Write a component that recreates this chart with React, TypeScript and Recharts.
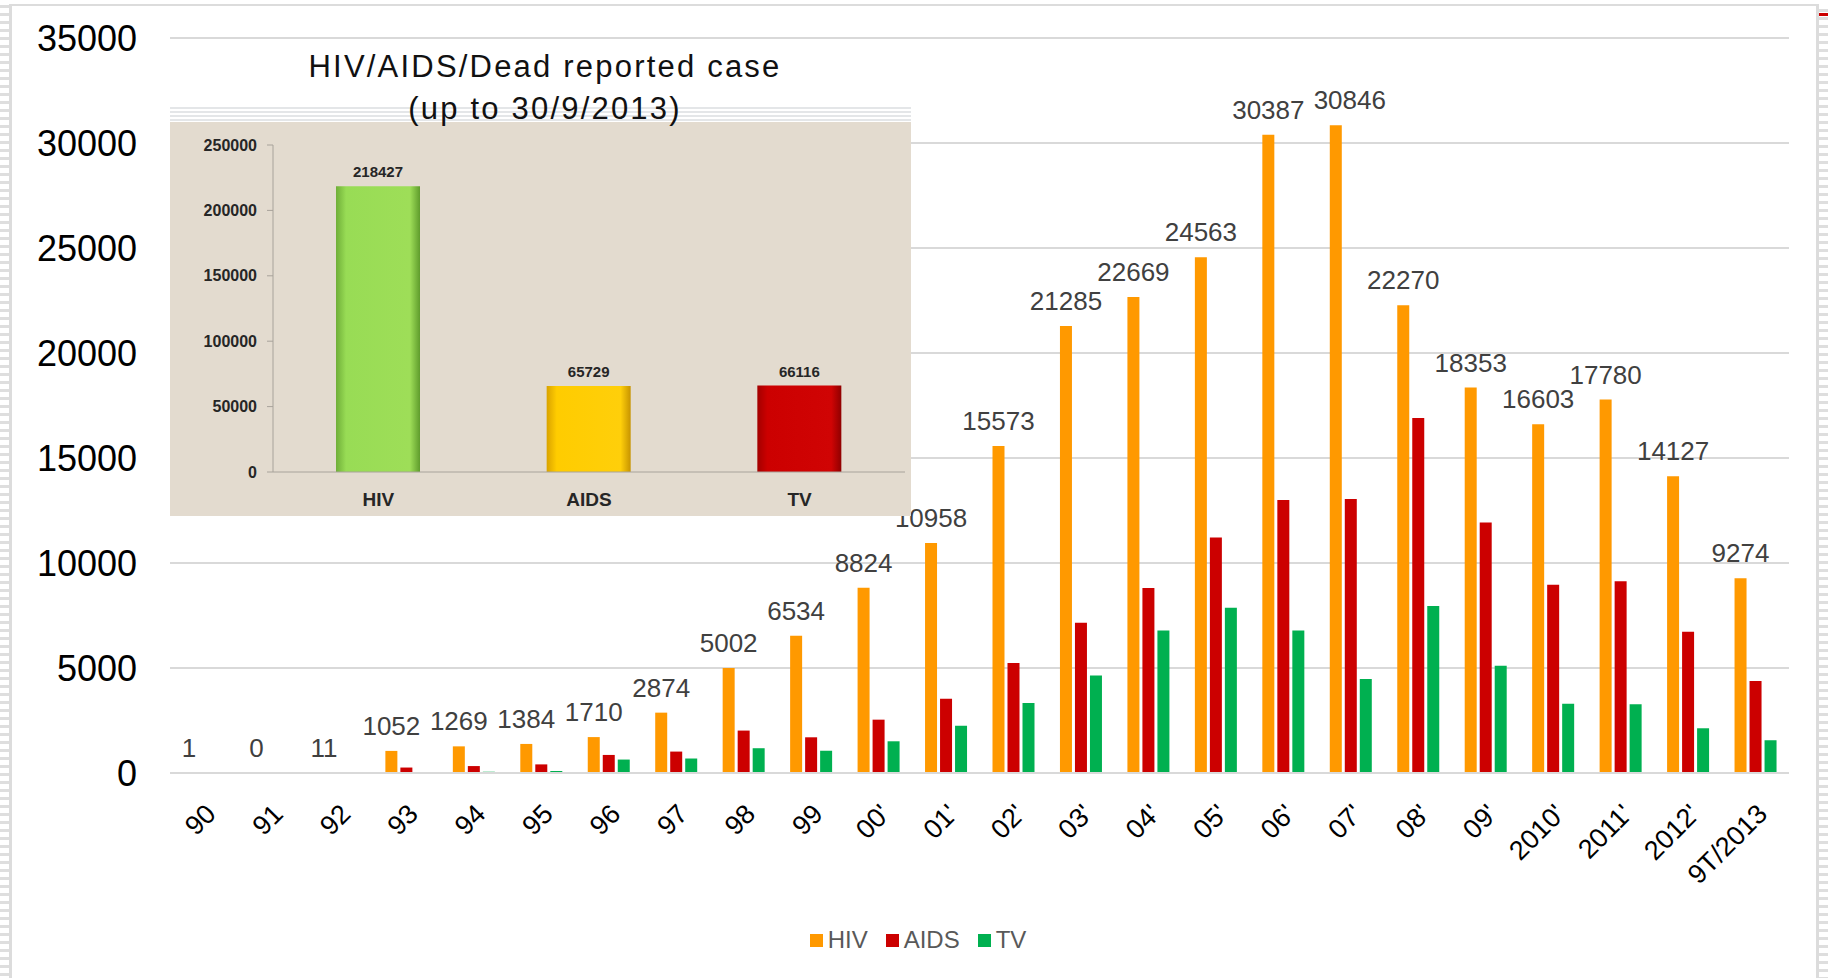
import React from 'react'
import { BarChart, Bar, XAxis, YAxis, CartesianGrid, Legend, LabelList, Cell } from 'recharts'

// yearly reported cases
const years = ['90', '91', '92', '93', '94', '95', '96', '97', '98', '99', "00'", "01'", "02'", "03'", "04'", "05'", "06'", "07'", "08'", "09'", "2010'", "2011'", "2012'", '9T/2013']
const hiv = [1, 0, 11, 1052, 1269, 1384, 1710, 2874, 5002, 6534, 8824, 10958, 15573, 21285, 22669, 24563, 30387, 30846, 22270, 18353, 16603, 17780, 14127, 9274]
const aids = [0, 0, 0, 260, 330, 410, 860, 1020, 2020, 1700, 2540, 3540, 5240, 7160, 8810, 11210, 13000, 13050, 16900, 11930, 8970, 9130, 6730, 4380]
const tv = [0, 0, 0, 0, 60, 95, 640, 690, 1180, 1060, 1510, 2250, 3330, 4640, 6780, 7870, 6780, 4480, 7950, 5110, 3300, 3270, 2130, 1560]
const yTicks = [0, 5000, 10000, 15000, 20000, 25000, 30000, 35000]
const seriesOrder = ['HIV', 'AIDS', 'TV']

// cumulative totals (inset)
const totalCats = ['HIV', 'AIDS', 'TV']
const totalValues = [218427, 65729, 66116]
const totalTicks = [0, 50000, 100000, 150000, 200000, 250000]
const totalGrads = ['gHiv', 'gAids', 'gTv']

const FONT = '"Liberation Sans", Arial, sans-serif'

const data = years.map((y, i) => ({ year: y, HIV: hiv[i], AIDS: aids[i], TV: tv[i] }))
const totals = totalCats.map((c, i) => ({ name: c, value: totalValues[i] }))

// small nudge so the two top labels don't collide (Excel did the same)
const labelNudge: Record<number, number> = { 17: 14 }

const renderHivLabel = (props: any) => {
  const { x, y, width, value, index } = props
  const dx = labelNudge[index] || 0
  return (
    <text x={Number(x) + Number(width) / 2 + dx} y={Number(y) - 16} textAnchor="middle" fontSize={26} fill="#404040" fontFamily={FONT}>
      {String(value)}
    </text>
  )
}

const renderLegend = (props: any) => {
  const items = [...(props.payload || [])].sort((a: any, b: any) => seriesOrder.indexOf(a.value) - seriesOrder.indexOf(b.value))
  return (
    <div style={{ display: 'flex', justifyContent: 'center', alignItems: 'center', height: 36, fontFamily: FONT }}>
      {items.map((p: any) => (
        <div key={p.value} style={{ display: 'flex', alignItems: 'center', margin: '0 9px' }}>
          <span style={{ width: 13, height: 13, background: p.color, marginRight: 5, display: 'inline-block' }} />
          <span style={{ fontSize: 24, color: '#595959' }}>{p.value}</span>
        </div>
      ))}
    </div>
  )
}

const stripes = 'repeating-linear-gradient(to bottom, #ffffff 0px, #ffffff 5px, #dedede 5px, #dedede 8px)'

export default function App() {
  return (
    <div style={{ position: 'absolute', left: 0, top: 0, width: 1828, height: 978, background: '#fff', fontFamily: FONT, overflow: 'hidden' }}>
      {/* slide frame */}
      <div style={{ position: 'absolute', left: 0, top: 0, width: 9, height: 978, background: stripes }} />
      <div style={{ position: 'absolute', left: 9, top: 4, width: 3, height: 974, background: '#dcdcdc' }} />
      <div style={{ position: 'absolute', left: 9, top: 4, width: 1810, height: 2, background: '#dcdcdc' }} />
      <div style={{ position: 'absolute', left: 1816, top: 4, width: 3, height: 974, background: '#dcdcdc' }} />
      <div style={{ position: 'absolute', left: 1819, top: 4, width: 9, height: 974, background: stripes }} />
      <div style={{ position: 'absolute', left: 1819, top: 13, width: 9, height: 3, background: '#cc0000' }} />

      <div style={{ position: 'absolute', left: 0, top: 0 }}>
        <BarChart width={1828} height={978} data={data} margin={{ top: 38, right: 39, left: 0, bottom: 20 }} barSize={12} barGap={3}>
          <CartesianGrid vertical={false} stroke="#d9d9d9" strokeWidth={2} />
          <XAxis
            dataKey="year"
            interval={0}
            height={149}
            axisLine={{ stroke: '#d9d9d9', strokeWidth: 2 }}
            tickLine={false}
            tickMargin={23}
            angle={-45}
            textAnchor="end"
            tick={{ fontSize: 27, fill: '#000', fontFamily: FONT }}
          />
          <YAxis
            width={170}
            domain={[0, 35000]}
            ticks={yTicks}
            axisLine={false}
            tickLine={false}
            tickMargin={27}
            tick={{ fontSize: 36, fill: '#000', fontFamily: FONT }}
          />
          <Legend verticalAlign="bottom" height={36} content={renderLegend} wrapperStyle={{ left: 4, width: 1828 }} />
          <Bar dataKey="HIV" name="HIV" fill="#ff9900" minPointSize={(v: number) => (v === 0 ? 0.01 : 0)} isAnimationActive={false}>
            <LabelList dataKey="HIV" content={renderHivLabel} />
          </Bar>
          <Bar dataKey="AIDS" name="AIDS" fill="#cc0000" isAnimationActive={false} />
          <Bar dataKey="TV" name="TV" fill="#00b050" isAnimationActive={false} />
        </BarChart>
      </div>

      {/* inset: cumulative totals */}
      <div style={{ position: 'absolute', left: 170, top: 105, width: 741, height: 17, background: 'repeating-linear-gradient(to bottom, #ffffff 0px, #ffffff 2px, #e4e6e8 2px, #e4e6e8 4px)' }} />
      <div style={{ position: 'absolute', left: 170, top: 122, width: 741, height: 394, background: '#e3dbcf' }}>
        <BarChart width={741} height={394} data={totals} margin={{ top: 23, right: 6, left: 0, bottom: 0 }} barSize={84}>
          <defs>
            <linearGradient id="gHiv" x1="0" y1="0" x2="1" y2="0">
              <stop offset="0%" stopColor="#6fae38" />
              <stop offset="12%" stopColor="#98dc55" />
              <stop offset="88%" stopColor="#9ede58" />
              <stop offset="100%" stopColor="#5f9c2c" />
            </linearGradient>
            <linearGradient id="gAids" x1="0" y1="0" x2="1" y2="0">
              <stop offset="0%" stopColor="#d9a300" />
              <stop offset="12%" stopColor="#ffcc00" />
              <stop offset="88%" stopColor="#ffcf0a" />
              <stop offset="100%" stopColor="#c79400" />
            </linearGradient>
            <linearGradient id="gTv" x1="0" y1="0" x2="1" y2="0">
              <stop offset="0%" stopColor="#a30000" />
              <stop offset="12%" stopColor="#cc0000" />
              <stop offset="88%" stopColor="#d00404" />
              <stop offset="100%" stopColor="#8f0000" />
            </linearGradient>
          </defs>
          <XAxis
            dataKey="name"
            height={44}
            axisLine={{ stroke: '#a8a39b' }}
            tickLine={false}
            tickMargin={15}
            tick={{ fontSize: 19, fontWeight: 'bold', fill: '#262626', fontFamily: FONT }}
          />
          <YAxis
            width={103}
            domain={[0, 250000]}
            ticks={totalTicks}
            axisLine={{ stroke: '#a8a39b' }}
            tickLine={{ stroke: '#a8a39b' }}
            tickMargin={10}
            tick={{ fontSize: 16, fontWeight: 'bold', fill: '#262626', fontFamily: FONT }}
          />
          <Bar dataKey="value" isAnimationActive={false}>
            {totals.map((t, i) => (
              <Cell key={t.name} fill={`url(#${totalGrads[i]})`} />
            ))}
            <LabelList dataKey="value" position="top" offset={9} style={{ fontSize: 15, fontWeight: 'bold', fill: '#262626', fontFamily: FONT }} />
          </Bar>
        </BarChart>
      </div>
      <div style={{ position: 'absolute', left: 245, top: 46, width: 600, textAlign: 'center', fontSize: 31, lineHeight: '42.4px', letterSpacing: 2.2, color: '#111', fontFamily: FONT }}>
        <div>HIV/AIDS/Dead reported case</div>
        <div>(up to 30/9/2013)</div>
      </div>
    </div>
  )
}
